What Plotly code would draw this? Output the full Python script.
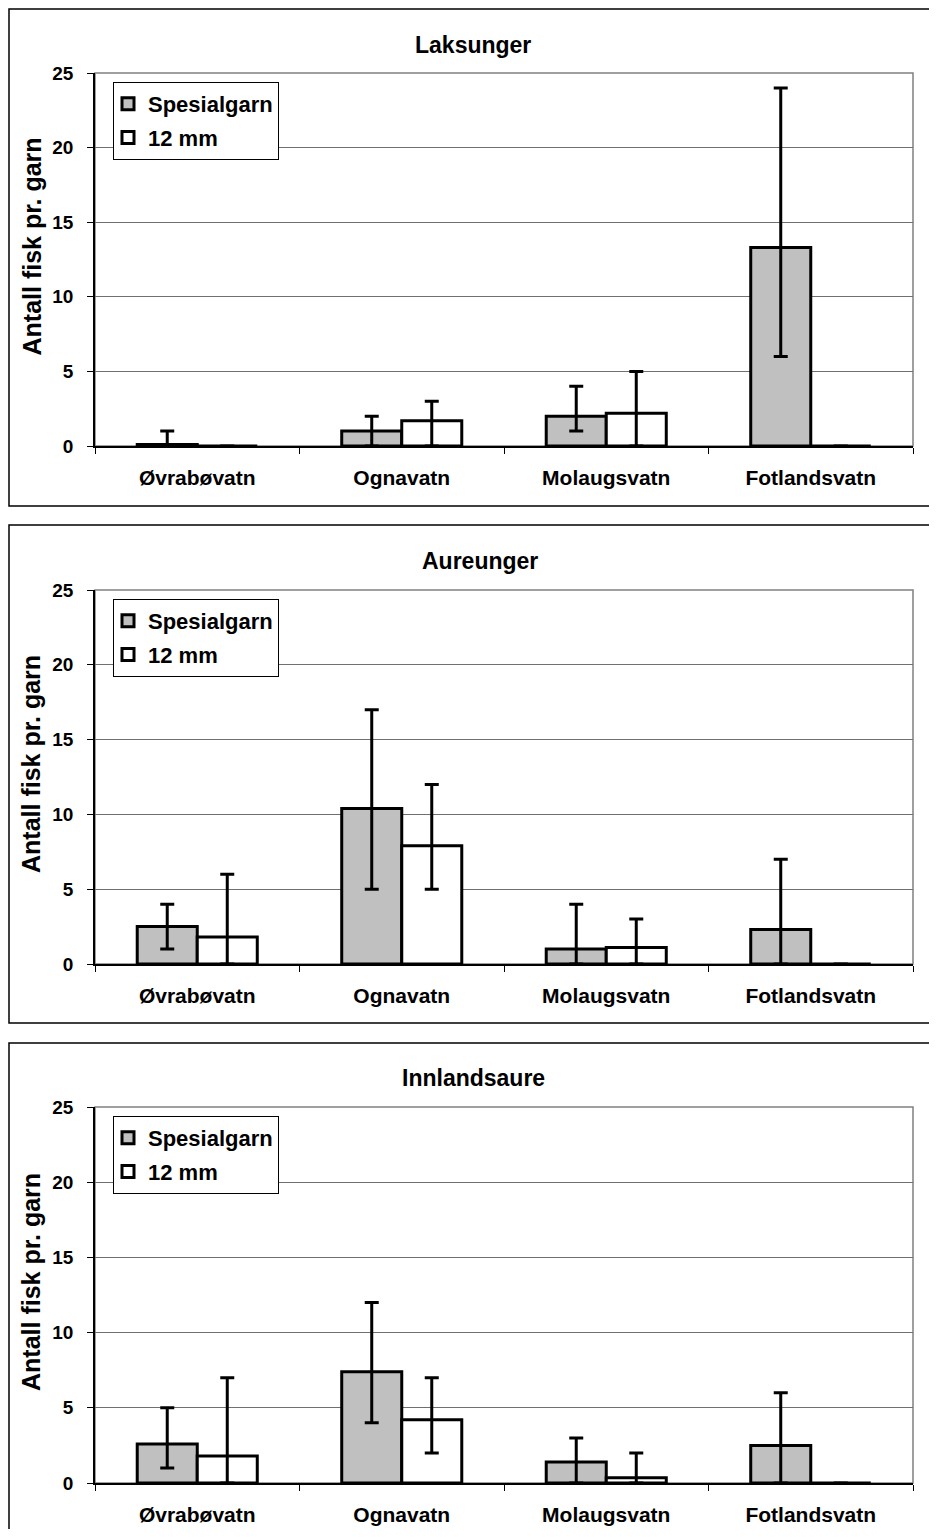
import plotly.graph_objects as go

categories = ["Øvrabøvatn", "Ognavatn", "Molaugsvatn", "Fotlandsvatn"]
titles = ["Laksunger", "Aureunger", "Innlandsaure"]
series_names = ["Spesialgarn", "12 mm"]

# Laksunger
laks_spes = [0.1, 1.0, 2.0, 13.3]
laks_spes_lo = [0, 0, 1, 6]
laks_spes_hi = [1, 2, 4, 24]
laks_12 = [0, 1.7, 2.2, 0]
laks_12_lo = [0, 0, 0, 0]
laks_12_hi = [0, 3, 5, 0]

# Aureunger
aure_spes = [2.5, 10.4, 1.0, 2.3]
aure_spes_lo = [1, 5, 0, 0]
aure_spes_hi = [4, 17, 4, 7]
aure_12 = [1.8, 7.9, 1.1, 0]
aure_12_lo = [0, 5, 0, 0]
aure_12_hi = [6, 12, 3, 0]

# Innlandsaure
inn_spes = [2.6, 7.4, 1.4, 2.5]
inn_spes_lo = [1, 4, 0, 0]
inn_spes_hi = [5, 12, 3, 6]
inn_12 = [1.8, 4.2, 0.35, 0]
inn_12_lo = [0, 2, 0, 0]
inn_12_hi = [7, 7, 2, 0]

y_ticks = [0, 5, 10, 15, 20, 25]
y_title = "Antall fisk pr. garn"

panels = [
    (laks_spes, laks_spes_lo, laks_spes_hi, laks_12, laks_12_lo, laks_12_hi),
    (aure_spes, aure_spes_lo, aure_spes_hi, aure_12, aure_12_lo, aure_12_hi),
    (inn_spes, inn_spes_lo, inn_spes_hi, inn_12, inn_12_lo, inn_12_hi),
]

# page is 937x1537; the HTML body has an 8px margin
OFF = 8
W, H = 937 - 2 * OFF, 1537 - 2 * OFF
FONT = "Liberation Sans, Arial, sans-serif"

# geometry in page pixels
plot_x = (95, 913)
plot_y = [(73, 446), (590, 964), (1107, 1483)]
box_y = [(9, 506), (525, 1023), (1043, 1560)]
title_y = [45, 561, 1078]
title_x = [473, 480, 473]
legend_top = [82, 599, 1116]

def px(x):
    return (x - OFF) / W

def py(y):
    return 1 - (y - OFF) / H

fig = go.Figure()
colors = ["#C0C0C0", "#FFFFFF"]

for i, data in enumerate(panels):
    xa = "x" if i == 0 else f"x{i+1}"
    ya = "y" if i == 0 else f"y{i+1}"
    leg = "legend" if i == 0 else f"legend{i+1}"
    vals = [(data[0], data[1], data[2]), (data[3], data[4], data[5])]
    for s, (v, lo, hi) in enumerate(vals):
        fig.add_trace(go.Bar(
            x=categories, y=v, name=series_names[s],
            marker=dict(color=colors[s], line=dict(color="black", width=3)),
            error_y=dict(type="data", symmetric=False,
                         array=[h - a for h, a in zip(hi, v)],
                         arrayminus=[a - l for a, l in zip(v, lo)],
                         color="black", thickness=3, width=7),
            xaxis=xa, yaxis=ya, legend=leg, legendgroup=f"g{s}",
        ))

layout = dict(
    width=W, height=H,
    margin=dict(l=0, r=0, t=0, b=0, autoexpand=False),
    paper_bgcolor="white", plot_bgcolor="white",
    barmode="group", bargap=0.413, bargroupgap=0,
    font=dict(family=FONT, color="black"),
    showlegend=True,
)

shapes = []
annotations = []
for i in range(3):
    sfx = "" if i == 0 else str(i + 1)
    y0, y1 = plot_y[i]
    layout[f"xaxis{sfx}"] = dict(
        domain=[px(plot_x[0]), px(plot_x[1])],
        anchor=f"y{sfx}", tickson="boundaries",
        ticks="outside", ticklen=6, tickcolor="black", tickwidth=1,
        showline=True, linecolor="black", linewidth=1.5,
        tickfont=dict(size=21, family=FONT, weight="bold"),
        ticklabelstandoff=12, automargin=False,
        showgrid=False, fixedrange=True,
    )
    layout[f"yaxis{sfx}"] = dict(
        domain=[py(y1), py(y0)],
        anchor=f"x{sfx}", range=[0, 25], tickvals=y_ticks,
        ticks="outside", ticklen=6, tickcolor="black", tickwidth=1,
        showline=True, linecolor="black", linewidth=1.5,
        showgrid=True, gridcolor="#707070", gridwidth=1,
        zeroline=False, automargin=False,
        ticklabelstandoff=10,
        tickfont=dict(size=19, family=FONT, weight="bold"),
    )
    leg = "legend" if i == 0 else f"legend{i+1}"
    layout[leg] = dict(
        x=px(113), y=py(legend_top[i]), xanchor="left", yanchor="top",
        bordercolor="black", borderwidth=1, bgcolor="white",
        font=dict(size=22, family=FONT, weight="bold"),
        tracegroupgap=2, itemwidth=30, indentation=-6,
    )
    # panel border
    shapes.append(dict(type="rect", xref="paper", yref="paper",
                       x0=px(9), x1=px(960), y0=py(box_y[i][1]), y1=py(box_y[i][0]),
                       line=dict(color="black", width=1.5), layer="below"))
    # plot area border (gray)
    shapes.append(dict(type="rect", xref=f"x{sfx} domain", yref=f"y{sfx} domain",
                       x0=0, x1=1, y0=0, y1=1,
                       line=dict(color="#808080", width=1.5), layer="below"))
    annotations.append(dict(text=f"<b>{titles[i]}</b>", xref="paper", yref="paper",
                            x=px(title_x[i]), y=py(title_y[i]), showarrow=False,
                            font=dict(size=23, family=FONT), xanchor="center", yanchor="middle"))
    annotations.append(dict(text=f"<b>{y_title}</b>", xref="paper", yref="paper",
                            x=px(31), y=py((y0 + y1) / 2 - 13), showarrow=False, textangle=-90,
                            font=dict(size=25, family=FONT), xanchor="center", yanchor="middle"))

layout["shapes"] = shapes
layout["annotations"] = annotations
fig.update_layout(**layout)

fig.write_html("out.html")
